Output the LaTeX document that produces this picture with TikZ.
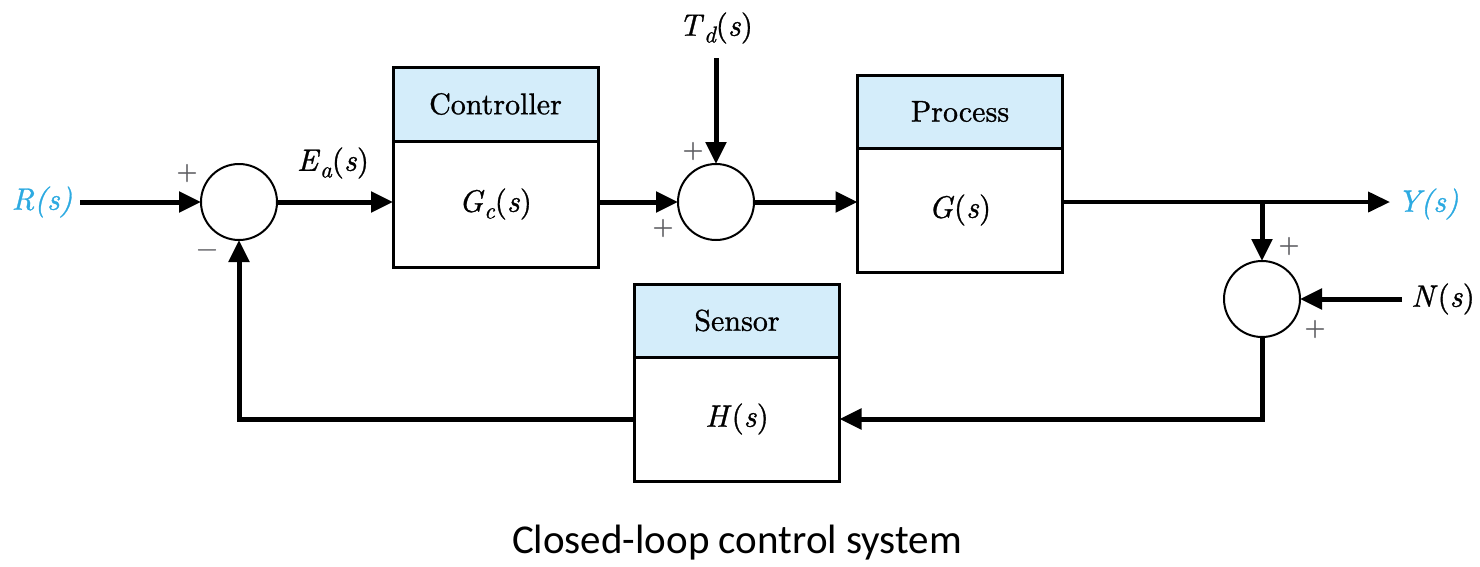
\documentclass[tikz,border=0pt]{standalone}
\usepackage{fontspec}
\setmainfont{lmroman10}[Extension=.otf, UprightFont=*-regular, ItalicFont=*-italic, BoldFont=*-bold, BoldItalicFont=*-bolditalic, FakeBold=1]
\newfontfamily\capfont{Carlito}
\usetikzlibrary{arrows.meta}
\definecolor{sigblue}{RGB}{45,170,225}
\definecolor{hdr}{RGB}{212,237,250}
\definecolor{sgncol}{RGB}{90,90,95}
\newcommand{\lowsub}[1]{\raisebox{-0.5ex}{\fontsize{23}{23}\selectfont\itshape #1}}
\begin{document}
\begin{tikzpicture}[x=1pt,y=-1pt,
  lbl/.style={font=\rmfamily\fontsize{31}{34}\selectfont, inner sep=0},
  sig/.style={lbl, text=sigblue},
  sgn/.style={font=\rmfamily\fontsize{27}{28}\selectfont, text=sgncol, inner sep=0},
  head/.style={draw, line width=3pt, fill=hdr, inner sep=0, outer sep=0, minimum width=205pt, font=\rmfamily\fontsize{30}{33}\selectfont},
  body/.style={draw, line width=3pt, inner sep=0, outer sep=0, minimum width=205pt, font=\rmfamily\fontsize{31}{34}\selectfont},
  sumc/.style={draw, circle, line width=2pt, minimum size=76pt, inner sep=0, outer sep=0},
  sigline/.style={line width=5pt, line join=miter, -{Triangle[length=22pt,width=20pt]}},
]
\useasboundingbox (0,0) rectangle (1480,566);

% summing junctions
\node[sumc] (s1) at (239,202) {};
\node[sumc] (s2) at (716,202) {};
\node[sumc] (s3) at (1262,299) {};

% controller
\node[head, minimum height=74pt] (ch) at (495.5,104) {Controller};
\node[body, minimum height=126pt] (cb) at (495.5,204) {\textit{G}\lowsub{c}(\textit{s})};
% process
\node[head, minimum height=73pt] (ph) at (960,111.5) {Process};
\node[body, minimum height=124pt] (pb) at (960,210) {\textit{G}(\textit{s})};
% sensor
\node[head, minimum height=73pt] (sh) at (737,320.5) {Sensor};
\node[body, minimum height=124pt] (sb) at (737,419) {\textit{H}(\textit{s})};

% signal labels
\node[sig] (rs) at (42,202) {\textit{R(s)}};
\node[sig] (ys) at (1428,204) {\textit{Y(s)}};
\node[lbl] (ns) at (1443,299) {\textit{N}(\textit{s})};
\node[lbl] (td) at (716,28) {\textit{T}\lowsub{d}(\textit{s})};
\node[lbl] (ea) at (333,163) {\textit{E}\lowsub{a}(\textit{s})};

% free ends
\coordinate (rin) at (80,202);
\coordinate (tdin) at (716,58);
\coordinate (yout) at (1390,202);
\coordinate (br) at (1262,202);
\coordinate (nin) at (1402,299);

% connectors
\draw[sigline] (rin) -- (s1.west);
\draw[sigline] (s1.east) -- (s1.east -| cb.west);
\draw[sigline] (s2.west -| cb.east) -- (s2.west);
\draw[sigline] (tdin) -- (s2.north);
\draw[sigline] (s2.east) -- (s2.east -| pb.west);
\draw[sigline, line width=4pt] (s2.east -| pb.east) -- (yout);
\draw[sigline] (br) -- (s3.north);
\draw[sigline] (nin) -- (s3.east);
\draw[sigline] (s3.south) |- (sb.east);
\draw[sigline] (sb.west) -| (s1.south);

% signs
\node[sgn] (p1) at (187,173) {+};
\node[sgn] (m1) at (207,253) {−};
\node[sgn] (p2) at (693,151) {+};
\node[sgn] (p3) at (663,228) {+};
\node[sgn] (p4) at (1289,246) {+};
\node[sgn] (p5) at (1315,329) {+};

% caption
\node[inner sep=0, font=\capfont\fontsize{41}{44}\selectfont] (cap) at (737,543) {Closed-loop control system};
\end{tikzpicture}
\end{document}
